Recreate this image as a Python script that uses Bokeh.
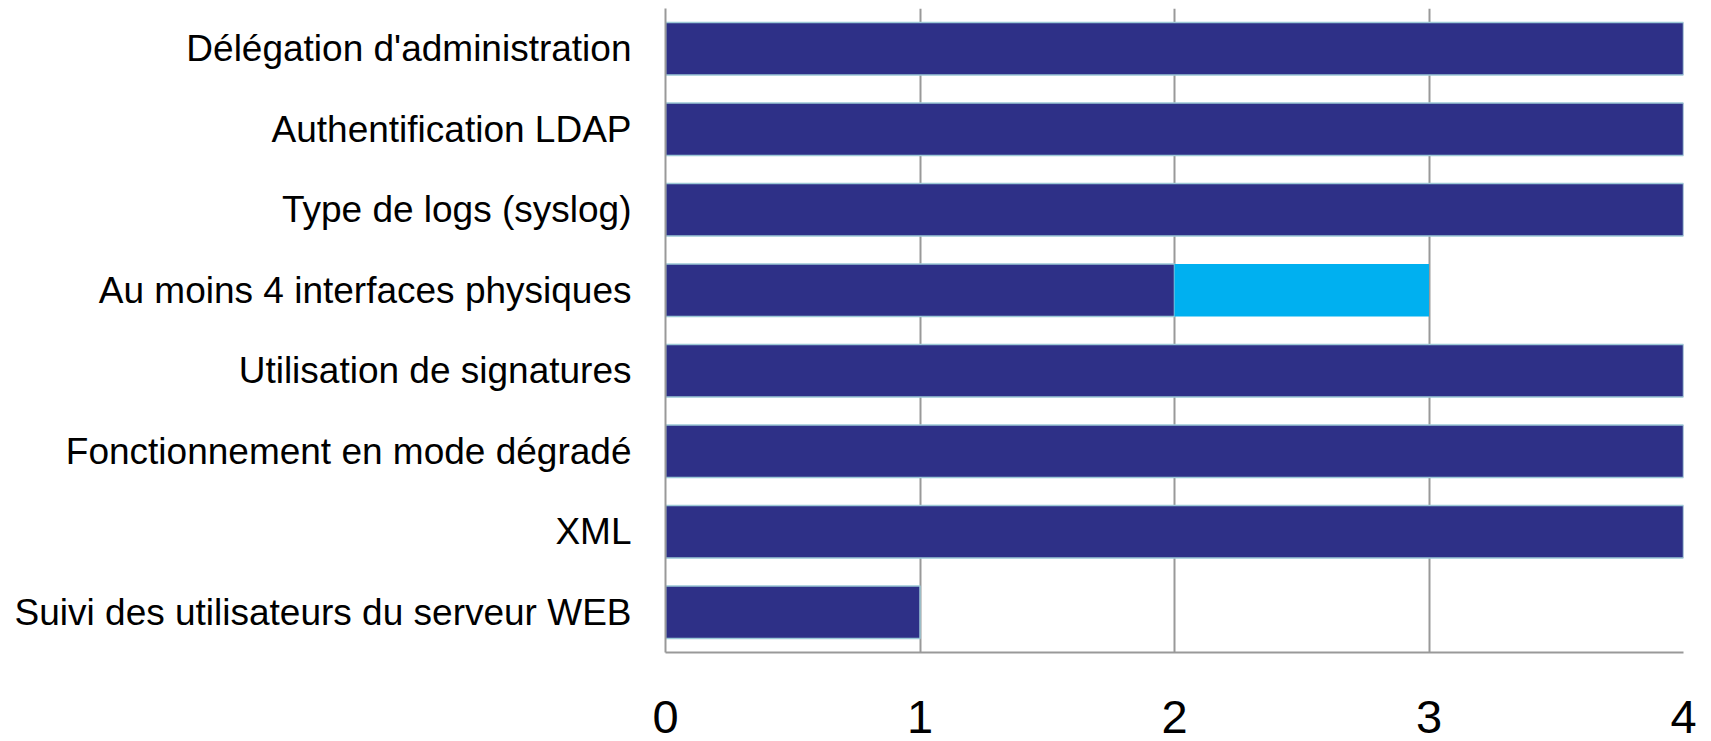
from bokeh.plotting import figure
from bokeh.models import ColumnDataSource, FactorRange, Range1d, FixedTicker
from bokeh.embed import file_html
from bokeh.resources import INLINE

# Criteria, listed top to bottom
criteria = [
    "Délégation d'administration",
    "Authentification LDAP",
    "Type de logs (syslog)",
    "Au moins 4 interfaces physiques",
    "Utilisation de signatures",
    "Fonctionnement en mode dégradé",
    "XML",
    "Suivi des utilisateurs du serveur WEB",
]
# Two stacked series per criterion
series_main = [4, 4, 4, 2, 4, 4, 4, 1]
series_extra = [0, 0, 0, 1, 0, 0, 0, 0]
x_ticks = [0, 1, 2, 3, 4]

DARK = "#2E3087"
CYAN = "#00B0F0"
GRID = "#999999"
FONT = "Liberation Sans"

main_end = list(series_main)
extra_end = [a + b for a, b in zip(series_main, series_extra)]

src = ColumnDataSource(dict(
    cat=criteria,
    start=[0] * len(criteria),
    main_end=main_end,
    extra_end=extra_end,
))

p = figure(
    width=1711, height=741,
    y_range=FactorRange(factors=list(reversed(criteria)), range_padding=0),
    x_range=Range1d(0, 4),
    output_backend="svg", toolbar_location=None,
    min_border_left=665, min_border_right=28,
    min_border_top=8, min_border_bottom=89,
)
p.outline_line_color = None
p.background_fill_color = "white"
p.border_fill_color = "white"

p.hbar(y="cat", left="start", right="main_end", height=0.65, source=src,
       fill_color=DARK, line_color="#9cc8d6", line_width=1.5)
p.hbar(y="cat", left="main_end", right="extra_end", height=0.65, source=src,
       fill_color=CYAN, line_color=None)

# x axis
p.xaxis.ticker = FixedTicker(ticks=x_ticks)
p.xaxis.axis_line_color = GRID
p.xaxis.axis_line_width = 2
p.xaxis.major_tick_line_color = None
p.xaxis.minor_tick_line_color = None
p.xaxis.major_label_text_font = FONT
p.xaxis.major_label_text_font_size = "47px"
p.xaxis.major_label_text_line_height = 0.8
p.xaxis.major_label_text_color = "black"
p.xaxis.major_label_standoff = 42

# y axis
p.yaxis.axis_line_color = GRID
p.yaxis.axis_line_width = 2
p.yaxis.major_tick_line_color = None
p.yaxis.minor_tick_line_color = None
p.yaxis.major_label_text_font = FONT
p.yaxis.major_label_text_font_size = "37px"
p.yaxis.major_label_text_color = "black"
p.yaxis.major_label_standoff = 28

# grid
p.xgrid.ticker = FixedTicker(ticks=x_ticks)
p.xgrid.grid_line_color = GRID
p.xgrid.grid_line_width = 2
p.ygrid.grid_line_color = None

open("out.html", "w").write(file_html(p, INLINE))
